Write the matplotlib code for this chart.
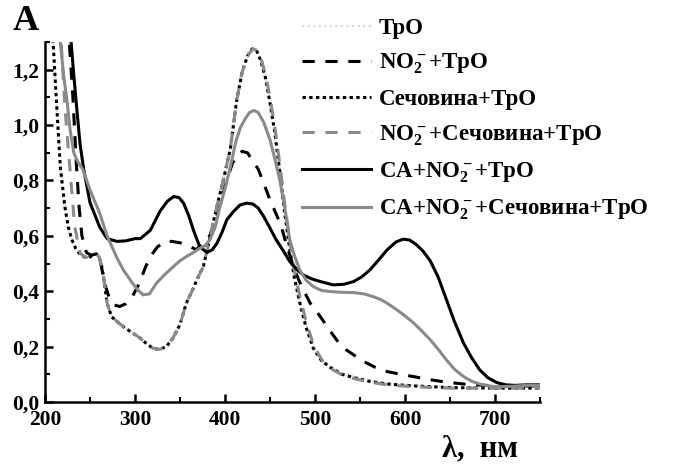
import matplotlib
matplotlib.use("Agg")
import matplotlib.pyplot as plt
from matplotlib.ticker import MultipleLocator

plt.rcParams['font.family'] = ['Liberation Serif', 'DejaVu Serif']
plt.rcParams['font.weight'] = 'bold'
plt.rcParams['mathtext.fontset'] = 'custom'
plt.rcParams['mathtext.rm'] = 'Liberation Serif:bold'
plt.rcParams['mathtext.it'] = 'Liberation Serif:bold'
plt.rcParams['mathtext.bf'] = 'Liberation Serif:bold'

# ---- data (wavelength nm, absorbance) ----
wl_tro = [203, 209, 213, 217, 222, 226, 230, 234, 238, 243, 248, 253, 257, 260, 263, 266, 269, 274,
          282, 290, 298, 306, 313, 320, 327, 335, 342, 350, 357, 364, 370, 376, 383, 391, 398, 406,
          413, 419, 425, 430, 435, 440, 445, 450, 455, 461, 466, 472, 477, 483, 490, 498, 507, 517,
          530, 543, 560, 580, 610, 650, 700, 750]
a_tro = [1.6, 1.3, 1.07, 0.85, 0.706, 0.63, 0.585, 0.555, 0.537, 0.525, 0.52, 0.53, 0.535, 0.525,
         0.49, 0.43, 0.357, 0.308, 0.285, 0.265, 0.248, 0.23, 0.21, 0.194, 0.19, 0.2, 0.23, 0.28,
         0.357, 0.405, 0.45, 0.49, 0.59, 0.706, 0.80, 0.915, 1.09, 1.19, 1.25, 1.275, 1.27, 1.23,
         1.17, 1.08, 0.98, 0.83, 0.70, 0.56, 0.46, 0.37, 0.28, 0.2, 0.155, 0.128, 0.105, 0.092,
         0.078, 0.068, 0.06, 0.055, 0.052, 0.052]

wl_urea = [203, 209, 213, 217, 222, 226, 230, 234, 238, 243, 248, 253, 257, 260, 263, 266, 269, 274,
           282, 290, 298, 306, 313, 320, 327, 335, 342, 350, 357, 364, 370, 376, 383, 391, 398, 406,
           413, 419, 425, 430, 435, 440, 445, 450, 455, 461, 466, 472, 477, 483, 490, 498, 507, 517,
           530, 543, 560, 580, 610, 650, 700, 750]
a_urea = [1.6, 1.3, 1.07, 0.85, 0.706, 0.63, 0.585, 0.555, 0.537, 0.525, 0.52, 0.53, 0.535, 0.525,
          0.49, 0.43, 0.357, 0.308, 0.285, 0.265, 0.248, 0.23, 0.21, 0.194, 0.19, 0.2, 0.23, 0.28,
          0.357, 0.405, 0.45, 0.49, 0.59, 0.706, 0.80, 0.915, 1.09, 1.19, 1.25, 1.275, 1.27, 1.23,
          1.17, 1.08, 0.98, 0.83, 0.69, 0.55, 0.45, 0.36, 0.27, 0.195, 0.15, 0.125, 0.1, 0.088,
          0.075, 0.065, 0.058, 0.052, 0.05, 0.05]

wl_no2_urea = [213, 218, 222, 228, 233, 239, 244, 248, 253, 257, 260, 263, 266, 269, 274, 282, 290,
               298, 306, 313, 320, 327, 335, 342, 350, 357, 364, 370, 376, 383, 391, 398, 406, 413,
               419, 425, 431, 436, 441, 446, 451, 456, 462, 467, 473, 478, 484, 491, 499, 508, 518,
               530, 543, 560, 580, 610, 650, 700, 750]
a_no2_urea = [1.55, 1.3, 1.07, 0.83, 0.634, 0.537, 0.525, 0.52, 0.53, 0.535, 0.525, 0.49, 0.43,
              0.357, 0.308, 0.285, 0.265, 0.248, 0.23, 0.21, 0.194, 0.19, 0.2, 0.23, 0.28, 0.357,
              0.405, 0.45, 0.49, 0.59, 0.706, 0.80, 0.915, 1.09, 1.19, 1.25, 1.275, 1.27, 1.23,
              1.17, 1.08, 0.98, 0.83, 0.70, 0.56, 0.46, 0.37, 0.28, 0.2, 0.15, 0.12, 0.098, 0.085,
              0.072, 0.062, 0.055, 0.05, 0.05, 0.05]

wl_no2 = [218, 223, 227, 231, 235, 238, 241, 246, 251, 257, 262, 267, 272, 277, 283, 290, 297, 305,
          312, 318, 325, 333, 341, 350, 359, 368, 376, 383, 389, 395, 402, 408, 413, 419, 425, 431,
          437, 443, 450, 456, 462, 469, 476, 482, 487, 495, 506, 515, 524, 534, 543, 555, 567, 580,
          595, 609, 625, 645, 665, 690, 720, 750]
a_no2 = [1.6, 1.45, 1.3, 1.1, 0.85, 0.7, 0.6, 0.54, 0.53, 0.535, 0.5, 0.42, 0.37, 0.35, 0.345,
         0.355, 0.38, 0.43, 0.49, 0.53, 0.56, 0.58, 0.58, 0.575, 0.565, 0.55, 0.575, 0.6, 0.65,
         0.72, 0.80, 0.86, 0.89, 0.905, 0.9, 0.87, 0.84, 0.79, 0.73, 0.685, 0.64, 0.56, 0.49,
         0.44, 0.405, 0.355, 0.308, 0.265, 0.224, 0.19, 0.17, 0.145, 0.125, 0.11, 0.1, 0.092,
         0.082, 0.072, 0.065, 0.06, 0.058, 0.058]

wl_ca = [222, 229, 232, 235, 239, 243, 250, 261, 269, 280, 290, 300, 306, 317, 328, 336, 343, 349,
         354, 360, 365, 372, 380, 386, 391, 397, 402, 410, 417, 424, 431, 437, 443, 450, 457, 465,
         472, 480, 487, 496, 506, 520, 532, 543, 552, 561, 570, 580, 590, 598, 605, 612, 620, 628,
         637, 646, 655, 665, 674, 683, 692, 702, 712, 722, 735, 750]
a_ca = [1.6, 1.3, 1.18, 1.07, 0.93, 0.84, 0.72, 0.63, 0.59, 0.58, 0.582, 0.59, 0.59, 0.62, 0.69,
        0.725, 0.742, 0.738, 0.718, 0.67, 0.62, 0.56, 0.54, 0.55, 0.573, 0.615, 0.658, 0.69, 0.712,
        0.718, 0.715, 0.70, 0.67, 0.628, 0.585, 0.545, 0.507, 0.478, 0.459, 0.445, 0.435, 0.423,
        0.425, 0.435, 0.452, 0.477, 0.51, 0.549, 0.578, 0.588, 0.585, 0.57, 0.545, 0.51, 0.45,
        0.37, 0.29, 0.213, 0.16, 0.116, 0.088, 0.07, 0.062, 0.06, 0.062, 0.062]

wl_ca_urea = [212, 217, 221, 224, 228, 232, 236, 242, 250, 261, 269, 280, 287, 297, 303, 309, 316,
              324, 333, 343, 350, 357, 365, 372, 378, 383, 389, 394, 400, 406, 412, 417, 422, 427,
              432, 437, 443, 450, 456, 461, 466, 472, 477, 483, 490, 498, 507, 517, 530, 543, 555,
              565, 573, 580, 590, 598, 608, 617, 628, 637, 646, 655, 665, 674, 683, 693, 702, 720,
              735, 750]
a_ca_urea = [1.6, 1.3, 1.17, 1.10, 0.98, 0.90, 0.87, 0.84, 0.766, 0.68, 0.60, 0.52, 0.477, 0.43,
             0.405, 0.387, 0.39, 0.43, 0.46, 0.49, 0.51, 0.525, 0.54, 0.555, 0.565, 0.585, 0.63,
             0.70, 0.77, 0.85, 0.94, 0.99, 1.02, 1.045, 1.053, 1.045, 1.01, 0.947, 0.87, 0.80,
             0.71, 0.585, 0.53, 0.477, 0.44, 0.417, 0.403, 0.399, 0.396, 0.395, 0.39, 0.38, 0.37,
             0.357, 0.335, 0.316, 0.29, 0.262, 0.225, 0.19, 0.152, 0.118, 0.092, 0.075, 0.065,
             0.058, 0.055, 0.057, 0.06, 0.06]

labels = ['ТрО', 'NO$_2^-$+ТрО', 'Сечовина+ТрО', 'NO$_2^-$+Сечовина+ТрО',
          'СА+NO$_2^-$+ТрО', 'СА+NO$_2^-$+Сечовина+ТрО']
yticks = [0.0, 0.2, 0.4, 0.6, 0.8, 1.0, 1.2]
xticks = [200, 300, 400, 500, 600, 700]

fig = plt.figure(figsize=(6.78, 4.70), dpi=100)
ax = fig.add_axes([45/678, 1-402/470, (540-45)/678, (402-42)/470])

gray = '#8a8a8a'
ax.plot(wl_tro, a_tro, color='#dcdcdc', lw=1.6, dashes=(1, 1.5), label=labels[0])
ax.plot(wl_no2, a_no2, color='black', lw=2.2, dashes=(4, 3.5), label=labels[1])
ax.plot(wl_urea, a_urea, color='black', lw=2.2, dashes=(1.1, 1.1), label=labels[2])
ax.plot(wl_no2_urea, a_no2_urea, color=gray, lw=2.2, dashes=(4, 3.5), label=labels[3])
ax.plot(wl_ca, a_ca, color='black', lw=2.2, label=labels[4])
ax.plot(wl_ca_urea, a_ca_urea, color=gray, lw=2.2, label=labels[5])

ax.set_xlim(200, 750)
ax.set_ylim(0, 1.3)
ax.set_xticks(xticks)
ax.set_xticklabels([str(v) for v in xticks])
ax.set_yticks(yticks)
ax.set_yticklabels([('%.1f' % v).replace('.', ',') for v in yticks])
ax.xaxis.set_minor_locator(MultipleLocator(50))
ax.yaxis.set_minor_locator(MultipleLocator(0.1))
ax.spines['top'].set_visible(False)
ax.spines['right'].set_visible(False)
for s in ['left', 'bottom']:
    ax.spines[s].set_linewidth(1.8)
ax.tick_params(which='major', direction='in', length=6, width=1.8, labelsize=15.5)
ax.tick_params(axis='x', which='major', pad=6)
ax.tick_params(axis='y', which='major', pad=4)
ax.tick_params(which='minor', direction='in', length=3.5, width=1.5)
for t in ax.get_xticklabels() + ax.get_yticklabels():
    t.set_fontweight('bold')

fig.legend(loc='upper left', bbox_to_anchor=(302/678, 1 - 18/470), frameon=False,
           fontsize=16.5, handlelength=3.0, handletextpad=0.35, labelspacing=0.56,
           borderpad=0, borderaxespad=0)

fig.text(26/678, 1 - 21/470, 'A', fontsize=26, fontweight='bold', ha='center', va='center')
fig.text(480/678, 1 - 449/470, 'λ,  нм', fontsize=22, fontweight='bold', ha='center', va='center')

fig.savefig('out.png', dpi=100)
